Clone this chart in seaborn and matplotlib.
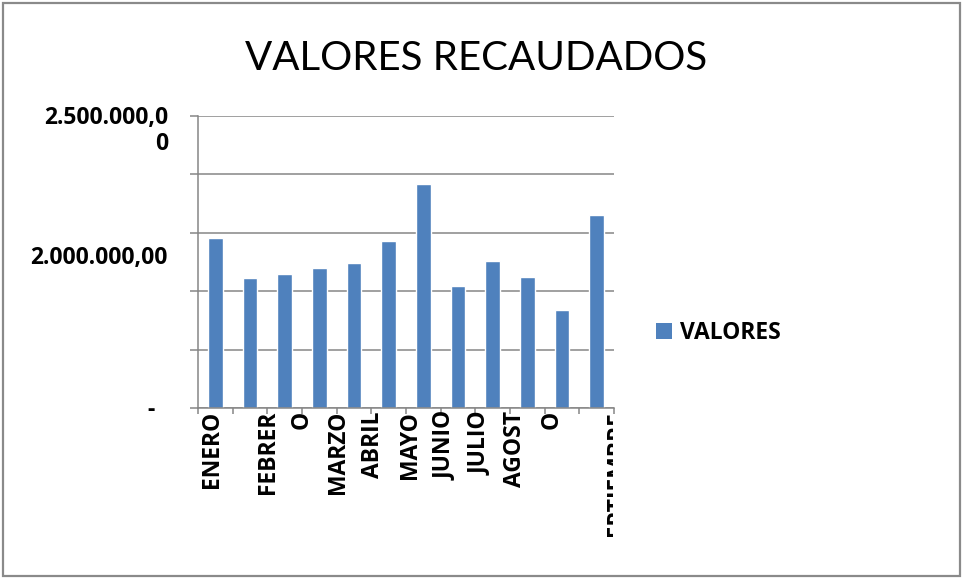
import matplotlib
matplotlib.use("Agg")
import matplotlib.pyplot as plt
import seaborn as sns
import pandas as pd
import numpy as np
from matplotlib.patches import Patch, Rectangle
from matplotlib.transforms import Bbox, TransformedBbox

# ---------------- data ----------------
meses = ["ENERO", "FEBRERO", "MARZO", "ABRIL", "MAYO", "JUNIO", "JULIO",
         "AGOSTO", "SEPTIEMBRE", "OCTUBRE", "NOVIEMBRE", "DICIEMBRE"]
valores = [1453000, 1111000, 1145000, 1197000, 1239000, 1427000, 1915000,
           1043000, 1256000, 1120000, 838000, 1650000]
serie = "VALORES"
titulo = "VALORES RECAUDADOS"
etiquetas_x = ["ENERO", "FEBRER", "O", "MARZO", "ABRIL", "MAYO", "JUNIO",
               "JULIO", "AGOST", "O", "SEPTIEMBRE"]
etiquetas_y = ["2.500.000,0\n0", "2.000.000,00", "-"]
y_max = 2500000
y_paso = 500000

# ---------------- style ----------------
sns.set_style("white")
plt.rcParams["font.family"] = ["Lato", "DejaVu Sans"]
plt.rcParams["text.color"] = "black"
BOLD = ["Open Sans", "DejaVu Sans"]
FS = 16.5

W, H = 963, 579
fig = plt.figure(figsize=(W / 100, H / 100), dpi=100)
ax_l, ax_r, ax_t, ax_b = 198, 614, 116, 408
ax = fig.add_axes([ax_l / W, 1 - ax_b / H, (ax_r - ax_l) / W, (ax_b - ax_t) / H])

df = pd.DataFrame({"mes": meses, serie: valores})
bar_color = "#4F81BD"
sns.barplot(data=df, x="mes", y=serie, color=bar_color, width=0.42,
            saturation=1, ax=ax, order=meses)

grid_c = "#868686"
ax.set_xlim(-0.5, len(meses) - 0.5)
ax.set_ylim(0, y_max)
ax.set_yticks(np.arange(0, y_max + 1, y_paso))
ax.yaxis.grid(True, color=grid_c, linewidth=1.1)
ax.set_axisbelow(True)
ax.set_xlabel("")
ax.set_ylabel("")
for s in ["top", "right"]:
    ax.spines[s].set_visible(False)
for s in ["left", "bottom"]:
    ax.spines[s].set_color(grid_c)
    ax.spines[s].set_linewidth(1.1)

ax.tick_params(axis="y", which="major", left=True, length=6, width=1.1,
               color=grid_c, direction="out", labelleft=False)
ax.set_xticks([])
ax.set_xticks(np.arange(-0.5, len(meses), 1.0), minor=True)
ax.tick_params(axis="x", which="minor", bottom=True, length=4.5, width=1.1,
               color=grid_c, direction="out", labelbottom=False)

# ---------------- x labels (as drawn in the reference) ----------------
pos_x = [-0.1, 1.52, 2.5, 3.54, 4.55, 5.61, 6.62, 7.63, 8.64, 9.71, 11.62]
clip = TransformedBbox(Bbox.from_extents(0, 1 - 537 / H, 613 / W, 1), fig.transFigure)
label_top = -(411 - ax_b) / (ax_b - ax_t)
for lab, px in zip(etiquetas_x, pos_x):
    t = ax.text(px, label_top, lab, transform=ax.get_xaxis_transform(),
                rotation=90, ha="center", va="top", fontsize=FS,
                family=BOLD, fontweight="bold", color="black", clip_on=True)
    t.set_clip_box(clip)

# ---------------- y labels ----------------
y_right = (168 - ax_l) / (ax_r - ax_l)
pos_y_pix = [131, 258, 410]
for lab, py in zip(etiquetas_y, pos_y_pix):
    x = y_right if lab != "-" else (155 - ax_l) / (ax_r - ax_l)
    ax.text(x, (ax_b - py) / (ax_b - ax_t), lab, transform=ax.transAxes,
            ha="right", va="center", multialignment="right", fontsize=FS,
            family=BOLD, fontweight="bold", color="black", linespacing=1.1)

# ---------------- title ----------------
fig.text(476 / W, 1 - 58 / H, titulo, ha="center", va="center",
         fontsize=29, color="black")

# ---------------- legend ----------------
fig.legend(handles=[Patch(facecolor=bar_color, edgecolor="none")], labels=[serie],
           loc="center left", bbox_to_anchor=(656 / W, 1 - 333 / H),
           frameon=False, handlelength=0.7, handleheight=0.65,
           handletextpad=0.35, borderpad=0, borderaxespad=0, labelcolor="black",
           prop={"family": BOLD, "weight": "bold", "size": FS})

# ---------------- outer border ----------------
fig.patches.append(Rectangle((2.5 / W, 3 / H), (960 - 2.5) / W, (576 - 3) / H,
                             transform=fig.transFigure, fill=False,
                             edgecolor="#8a8a8a", linewidth=1.6))

fig.savefig("out.png", dpi=100, facecolor="white")
